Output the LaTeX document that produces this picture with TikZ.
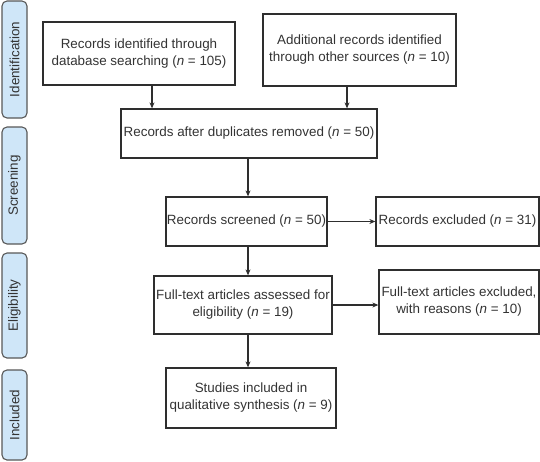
\documentclass[tikz,border=0pt]{standalone}
\usepackage{fontspec}
\setmainfont{Liberation Sans}
\usetikzlibrary{arrows.meta}
\definecolor{txt}{HTML}{333333}
\definecolor{edge}{HTML}{2E2E2E}
\definecolor{side}{HTML}{CFE6F8}
\begin{document}
\begin{tikzpicture}[x=1pt,y=-1pt,
  box/.style={draw=edge,line width=1.3pt,rectangle,inner sep=0pt,align=center,text=txt,
    font=\fontsize{13.4}{17}\selectfont},
  sidebar/.style={draw=edge!80,line width=1.1pt,fill=side,rounded corners=5pt},
  sidelabel/.style={rotate=90,text=txt,font=\fontsize{13.4}{16}\selectfont},
  arr/.style={draw=edge,line width=1.2pt,-{Stealth[length=6pt,width=5pt]}}]
\useasboundingbox (0,0) rectangle (540,461);
% side bars
\draw[sidebar] (2,1) rectangle (27,118);
\node[sidelabel] (l1) at (14.5,59.5) {Identification};
\draw[sidebar] (2,127) rectangle (27,244);
\node[sidelabel] (l2) at (14.5,185.5) {Screening};
\draw[sidebar] (2,253) rectangle (27,358);
\node[sidelabel] (l3) at (14.5,305.5) {Eligibility};
\draw[sidebar] (2,370) rectangle (27,460);
\node[sidelabel] (l4) at (14.5,415) {Included};
% boxes
\node[box,minimum width=192pt,minimum height=63pt] (b1) at (139,53.5)
  {Records identified through\\database searching (\textit{n} = 105)};
\node[box,minimum width=193pt,minimum height=72pt] (b2) at (359.5,50)
  {Additional records identified\\through other sources (\textit{n} = 10)};
\node[box,minimum width=256pt,minimum height=49pt] (b3) at (249,133.5)
  {Records after duplicates removed (\textit{n} = 50)};
\node[box,minimum width=161pt,minimum height=49pt] (b4) at (246.5,221.5)
  {Records screened (\textit{n} = 50)};
\node[box,minimum width=163pt,minimum height=49pt] (b5) at (457.5,221.5)
  {Records excluded (\textit{n} = 31)};
\node[box,minimum width=178pt,minimum height=58pt] (b6) at (243,305)
  {Full-text articles assessed for\\eligibility (\textit{n} = 19)};
\node[box,minimum width=160pt,minimum height=64pt] (b7) at (459,302)
  {Full-text articles excluded,\\with reasons (\textit{n} = 10)};
\node[box,minimum width=170pt,minimum height=60pt] (b8) at (251,398)
  {Studies included in\\qualitative synthesis (\textit{n} = 9)};
% arrows
\coordinate (c1) at ([xshift=13pt]b1.south);
\draw[arr] (c1) -- (c1 |- b3.north);
\coordinate (c2) at ([xshift=-12.5pt]b2.south);
\draw[arr] (c2) -- (c2 |- b3.north);
\coordinate (c3) at ([xshift=-1pt]b3.south);
\draw[arr] (c3) -- (c3 |- b4.north);
\draw[arr] (c3 |- b4.south) -- (c3 |- b6.north);
\draw[arr] (c3 |- b6.south) -- (c3 |- b8.north);
\draw[arr] (b4.east) -- (b5.west);
\draw[arr] (b6.east) -- (b6.east -| b7.west);
\end{tikzpicture}
\end{document}
